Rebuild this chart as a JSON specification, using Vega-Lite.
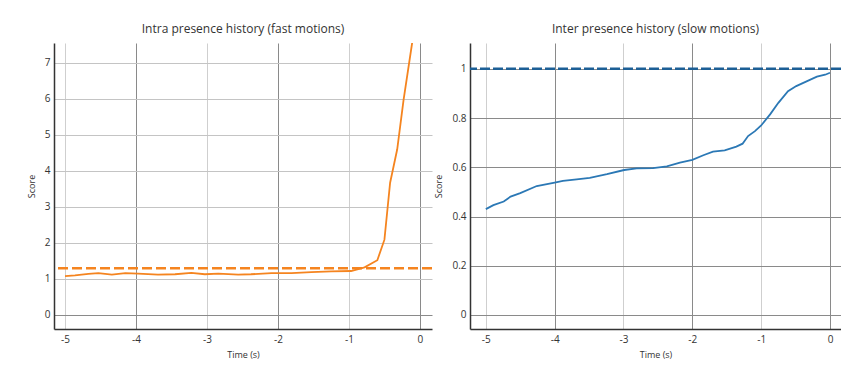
{
  "$schema": "https://vega.github.io/schema/vega-lite/v6.json",
  "padding": {"left": 27, "top": 23, "right": 0, "bottom": 0},
  "spacing": 0,
  "background": "white",
  "config": {
    "font": "Open Sans",
    "view": {"stroke": null},
    "title": {"fontSize": 12, "fontWeight": "normal", "color": "#333", "offset": 7},
    "axis": {
      "domainColor": "#333", "domainWidth": 1.5, "ticks": false,
      "labelFontSize": 10, "labelColor": "#333", "titleFontSize": 9, "titleFontWeight": "normal", "titleColor": "#333",
      "gridWidth": 1
    }
  },
  "datasets": {
    "intra": [
      {"t": -5.0, "s": 1.08}, {"t": -4.86, "s": 1.1}, {"t": -4.67, "s": 1.14}, {"t": -4.53, "s": 1.16},
      {"t": -4.34, "s": 1.12}, {"t": -4.15, "s": 1.16}, {"t": -3.97, "s": 1.15}, {"t": -3.69, "s": 1.12},
      {"t": -3.45, "s": 1.13}, {"t": -3.22, "s": 1.17}, {"t": -3.03, "s": 1.13}, {"t": -2.84, "s": 1.15},
      {"t": -2.56, "s": 1.12}, {"t": -2.38, "s": 1.13}, {"t": -2.09, "s": 1.16}, {"t": -1.81, "s": 1.16},
      {"t": -1.53, "s": 1.19}, {"t": -1.25, "s": 1.21}, {"t": -0.97, "s": 1.22}, {"t": -0.78, "s": 1.32},
      {"t": -0.6, "s": 1.52}, {"t": -0.5, "s": 2.09}, {"t": -0.42, "s": 3.67}, {"t": -0.32, "s": 4.6},
      {"t": -0.23, "s": 5.98}, {"t": -0.11, "s": 7.55}, {"t": -0.05, "s": 8.4}
    ],
    "inter": [
      {"t": -5.0, "s": 0.43}, {"t": -4.89, "s": 0.446}, {"t": -4.74, "s": 0.461}, {"t": -4.64, "s": 0.481},
      {"t": -4.5, "s": 0.495}, {"t": -4.26, "s": 0.524}, {"t": -4.0, "s": 0.538}, {"t": -3.88, "s": 0.545},
      {"t": -3.68, "s": 0.551}, {"t": -3.49, "s": 0.557}, {"t": -3.24, "s": 0.572}, {"t": -2.99, "s": 0.589},
      {"t": -2.81, "s": 0.596}, {"t": -2.57, "s": 0.597}, {"t": -2.37, "s": 0.604}, {"t": -2.18, "s": 0.619},
      {"t": -2.0, "s": 0.63}, {"t": -1.84, "s": 0.649}, {"t": -1.7, "s": 0.664}, {"t": -1.53, "s": 0.669},
      {"t": -1.36, "s": 0.684}, {"t": -1.27, "s": 0.696}, {"t": -1.19, "s": 0.727}, {"t": -1.09, "s": 0.747},
      {"t": -1.0, "s": 0.77}, {"t": -0.87, "s": 0.815}, {"t": -0.75, "s": 0.862}, {"t": -0.61, "s": 0.909},
      {"t": -0.49, "s": 0.93}, {"t": -0.34, "s": 0.949}, {"t": -0.19, "s": 0.968}, {"t": -0.07, "s": 0.976},
      {"t": 0.0, "s": 0.984}
    ],
    "thrIntra": [{"v": 1.3}],
    "thrInter": [{"v": 1.0}]
  },
  "hconcat": [
    {
      "title": "Intra presence history (fast motions)",
      "width": 378, "height": 286,
      "layer": [
        {
          "data": {"name": "intra"},
          "mark": {"type": "line", "color": "#F5841F", "strokeWidth": 1.8, "clip": true},
          "encoding": {
            "x": {"field": "t", "type": "quantitative", "title": "Time (s)",
              "scale": {"domain": [-5.155, 0.17], "nice": false, "zero": false},
              "axis": {"values": [-5, -4, -3, -2, -1, 0], "labelPadding": 5, "titlePadding": 6,
                "labelExpr": "datum.value < 0 ? '-' + abs(datum.value) : '' + datum.value",
                "gridColor": {"condition": {"test": "datum.value % 2 === 0", "value": "#8a8a8a"}, "value": "#cfcfcf"}}},
            "y": {"field": "s", "type": "quantitative", "title": "Score",
              "scale": {"domain": [-0.39, 7.55], "nice": false, "zero": false},
              "axis": {"values": [0, 1, 2, 3, 4, 5, 6, 7], "labelPadding": 4, "titlePadding": 8,
                "gridColor": {"condition": {"test": "datum.value === 0", "value": "#8a8a8a"}, "value": "#c4c4c4"}}}
          }
        },
        {
          "data": {"name": "thrIntra"},
          "mark": {"type": "rule", "color": "#F5841F", "strokeWidth": 2.5, "strokeDash": [10, 4]},
          "encoding": {"y": {"field": "v", "type": "quantitative"}}
        }
      ]
    },
    {
      "title": "Inter presence history (slow motions)",
      "width": 371, "height": 286,
      "layer": [
        {
          "data": {"name": "inter"},
          "mark": {"type": "line", "color": "#2B78B5", "strokeWidth": 1.8, "clip": true},
          "encoding": {
            "x": {"field": "t", "type": "quantitative", "title": "Time (s)",
              "scale": {"domain": [-5.23, 0.16], "nice": false, "zero": false},
              "axis": {"values": [-5, -4, -3, -2, -1, 0], "labelPadding": 5, "titlePadding": 6,
                "labelExpr": "datum.value < 0 ? '-' + abs(datum.value) : '' + datum.value",
                "gridColor": {"condition": {"test": "datum.value % 2 === 0", "value": "#8a8a8a"}, "value": "#cfcfcf"}}},
            "y": {"field": "s", "type": "quantitative", "title": "Score",
              "scale": {"domain": [-0.057, 1.105], "nice": false, "zero": false},
              "axis": {"values": [0, 0.1, 0.2, 0.3, 0.4, 0.5, 0.6, 0.7, 0.8, 0.9, 1],
                "labelExpr": "round(datum.value*10) % 2 === 0 ? '' + datum.value : ''",
                "labelPadding": 4, "titlePadding": 8,
                "gridColor": {"condition": {"test": "round(datum.value*10) % 2 === 0", "value": "#8a8a8a"}, "value": "#cfcfcf"}}}
          }
        },
        {
          "data": {"name": "thrInter"},
          "mark": {"type": "rule", "color": "#1C5F96", "strokeWidth": 2.5, "strokeDash": [10, 3]},
          "encoding": {"y": {"field": "v", "type": "quantitative"}}
        }
      ]
    }
  ]
}
